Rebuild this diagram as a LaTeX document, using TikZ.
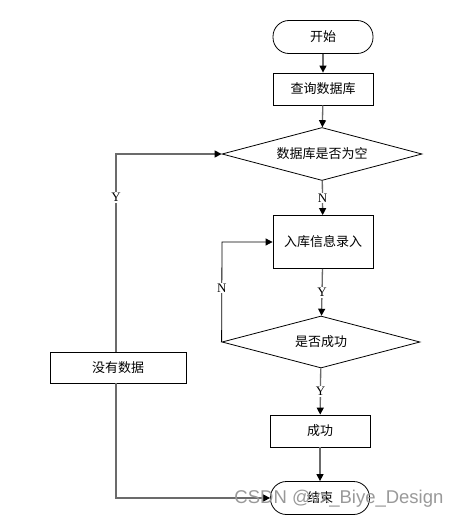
\documentclass[tikz,border=0pt]{standalone}
\usepackage{fontspec}
\setmainfont{Liberation Serif}
\newfontfamily\cjk{Noto Sans CJK SC}
\newfontfamily\wmfont{Liberation Sans}
\usetikzlibrary{shapes.geometric,arrows.meta}
\begin{document}
\begin{tikzpicture}[x=1pt,y=-1pt,
  box/.style={draw,line width=0.8pt,minimum width=100pt,minimum height=32pt,inner sep=0pt,
    font=\cjk\fontsize{13}{15}\selectfont},
  term/.style={box,rounded corners=16pt},
  dia/.style={draw,diamond,line width=0.8pt,inner sep=0pt,aspect=4,
    font=\cjk\fontsize{13}{15}\selectfont},
  conn/.style={draw=black!58,line width=1.3pt,-{Triangle[length=7pt,width=7pt,color=black]}},
  thin/.style={draw=black,line width=0.8pt,-{Triangle[length=7pt,width=7pt,color=black]}},
  lbl/.style={fill=white,inner sep=1pt,font=\fontsize{13}{15}\selectfont}]
\useasboundingbox (0,0) rectangle (462,522);
\node[term,minimum height=33pt] (start) at (323,37) {开始};
\node[box] (query) at (323,89) {查询数据库};
\node[dia,minimum width=200pt,minimum height=53pt] (d1) at (322,154) {数据库是否为空};
\node[box,minimum height=53pt] (entry) at (323,242) {入库信息录入};
\node[dia,minimum width=198pt,minimum height=52pt] (d2) at (321,342) {是否成功};
\node[box] (succ) at (320,431) {成功};
\node[term,minimum width=99pt,minimum height=33pt] (endn) at (320,498) {结束};
\node[box,minimum width=136pt,minimum height=31pt] (nodata) at (118,368) {没有数据};
\coordinate (c1) at (116,154);
\coordinate (c2) at (116,352);
\coordinate (c3) at (116,383);
\coordinate (c4) at (116,498);
\coordinate (c5) at (222,242);

\draw[conn] (start) -- (query);
\draw[conn] (query) -- (d1);
\draw[conn] (d1) -- node[lbl] {N} (entry);
\draw[conn] (entry) -- node[lbl] {Y} (d2);
\draw[conn] (d2) -- node[lbl] {Y} (succ);
\draw[conn] (succ) -- (endn);
\draw[thin] (d2.west) -- node[lbl,pos=0.54] {N} (c5) -- (entry.west);
\draw[conn] (c2) -- node[lbl,pos=0.78] {Y} (c1) -- (d1.west);
\draw[conn] (c3) -- (c4) -- (endn.west);
\node[text=black!40,font=\wmfont\fontsize{18.5}{20}\selectfont,anchor=east] (wm) at (447,499) {CSDN @vx\_Biye\_Design};
\end{tikzpicture}
\end{document}
